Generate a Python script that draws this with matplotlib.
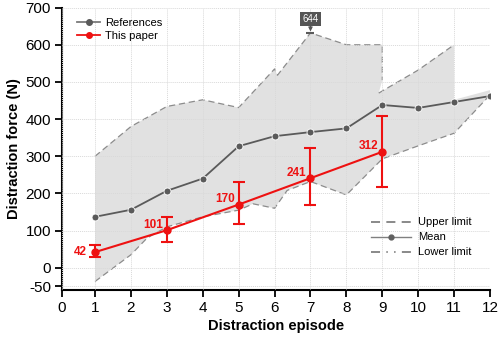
import matplotlib
matplotlib.use("Agg")
import matplotlib.pyplot as plt
from matplotlib.lines import Line2D
import numpy as np

plt.rcParams['font.family'] = ['Liberation Sans', 'DejaVu Sans']

# ---------------- data ----------------
episodes = [1, 2, 3, 4, 5, 6, 7, 8, 9, 10, 11, 12]
ref_mean = [137, 156, 207, 240, 327, 354, 365, 375, 438, 430, 446, 462]

upper1_x = [1, 2, 3, 4, 5, 6, 6.08, 7, 8, 9, 9]
upper1_y = [300, 380, 434, 452, 431, 535, 518, 632, 600, 600, 505]
upper2_x = [8.9, 10, 11]
upper2_y = [470, 532, 600]
fill_tail_x = [11, 12]
fill_tail_y = [452, 478]

lower_x = [1, 2, 2.45, 3, 4, 5, 5.4, 6, 6.35, 7, 7.75, 8, 9, 10, 11, 12]
lower_y = [-37, 35, 80, 110, 137, 155, 172, 160, 208, 232, 205, 196, 293, 328, 362, 465]

paper_x = [1, 3, 5, 7, 9]
paper_y = [42, 101, 170, 241, 312]
paper_lo = [28, 68, 118, 168, 216]
paper_hi = [60, 136, 232, 322, 408]
paper_labels = ["42", "101", "170", "241", "312"]

peak_x = 7
peak_y = 632
peak_label = "644"

xticklabels = [str(i) for i in range(13)]
yticks = [-50, 0, 100, 200, 300, 400, 500, 600, 700]

# ---------------- figure ----------------
fig = plt.figure(figsize=(4.98, 3.39), dpi=100)
ax = fig.add_axes([0.1245, 0.1445, 0.8595, 0.833])

gray_line = '#5a5a5a'
dash_gray = '#8c8c8c'
red = '#ee1111'

# shaded region
poly_x = upper1_x + upper2_x + fill_tail_x + lower_x[::-1]
poly_y = upper1_y + upper2_y + fill_tail_y + lower_y[::-1]
ax.fill(poly_x, poly_y, color='#e1e1e1', lw=0, zorder=1)

# grid
ax.grid(True, color='#d9d9d9', linestyle=(0, (1, 1)), linewidth=0.7, zorder=1.5)
ax.set_axisbelow(False)

# limit lines
ax.plot(upper1_x, upper1_y, color=dash_gray, lw=0.9, ls=(0, (5, 3)), zorder=2)
ax.plot(upper2_x, upper2_y, color=dash_gray, lw=0.9, ls=(0, (5, 3)), zorder=2)
ax.plot(lower_x, lower_y, color=dash_gray, lw=0.9, ls=(0, (5, 3)), zorder=2)

# reference mean
ax.plot(episodes, ref_mean, color=gray_line, lw=1.3, marker='o', ms=5,
        mfc=gray_line, mec='white', mew=0.6, zorder=3)

# this paper
yerr = [np.array(paper_y) - np.array(paper_lo), np.array(paper_hi) - np.array(paper_y)]
ax.errorbar(paper_x, paper_y, yerr=yerr, color=red, lw=1.5, marker='o', ms=5,
            mfc=red, mec=red, capsize=4, capthick=1.5, elinewidth=1.5, zorder=4)

for i, (x, y, lab) in enumerate(zip(paper_x, paper_y, paper_labels)):
    off = (-6, 0) if i == 0 else (-3, 4)
    ax.annotate(lab, (x, y), xytext=off, textcoords='offset points',
                ha='right', va='center', color=red, fontsize=8.5,
                fontweight='bold', zorder=5)

# peak annotation
ax.plot([peak_x], [peak_y], marker='_', color=gray_line, ms=6, mew=1.5, zorder=3)
ax.annotate(peak_label, (peak_x, peak_y), xytext=(0, 10), textcoords='offset points',
            ha='center', va='center', color='white', fontsize=7,
            bbox=dict(boxstyle='square,pad=0.2', fc='#555555', ec='none'),
            arrowprops=dict(arrowstyle='-|>', color='#555555', lw=0.8,
                            shrinkA=0, shrinkB=1, mutation_scale=6),
            zorder=6)

# axes
ax.set_xlim(0.08, 12)
ax.set_ylim(-60, 700)
ax.set_xticks([0.08] + episodes)
ax.set_xticklabels(xticklabels)
ax.set_yticks(yticks)
ax.set_yticklabels([str(v) for v in yticks])
for s in ['top', 'right']:
    ax.spines[s].set_visible(False)
for s in ['left', 'bottom']:
    ax.spines[s].set_linewidth(1.5)
ax.tick_params(axis='both', direction='out', length=5, width=1.3, labelsize=11,
               colors='black', pad=3)
ax.set_xlabel('Distraction episode', fontsize=10.5, fontweight='bold', labelpad=3)
ax.set_ylabel('Distraction force (N)', fontsize=10.5, fontweight='bold', labelpad=3)

# legends
h1 = [Line2D([], [], color='#7a7a7a', lw=1.3, marker='o', ms=4, mfc=gray_line, mec=gray_line),
      Line2D([], [], color=red, lw=1.3, marker='o', ms=4, mfc=red, mec=red)]
leg1 = ax.legend(h1, ['References', 'This paper'], loc='upper left',
                 bbox_to_anchor=(0.012, 1.0), frameon=False, fontsize=8,
                 handlelength=2.1, handletextpad=0.4, labelspacing=0.3)
ax.add_artist(leg1)

h2 = [Line2D([], [], color='#808080', lw=1.3, ls=(0, (5, 3.5))),
      Line2D([], [], color='#808080', lw=1.0, marker='o', ms=3.5, mfc='#606060', mec='#606060'),
      Line2D([], [], color='#808080', lw=1.3, ls=(0, (5, 3.5, 0.8, 3.5, 0.8, 3.5)))]
ax.legend(h2, ['Upper limit', 'Mean', 'Lower limit'], loc='lower right',
          bbox_to_anchor=(0.98, 0.08), frameon=False, fontsize=8,
          handlelength=3.6, handletextpad=0.6, labelspacing=0.45)

fig.savefig('out.png', dpi=100)
